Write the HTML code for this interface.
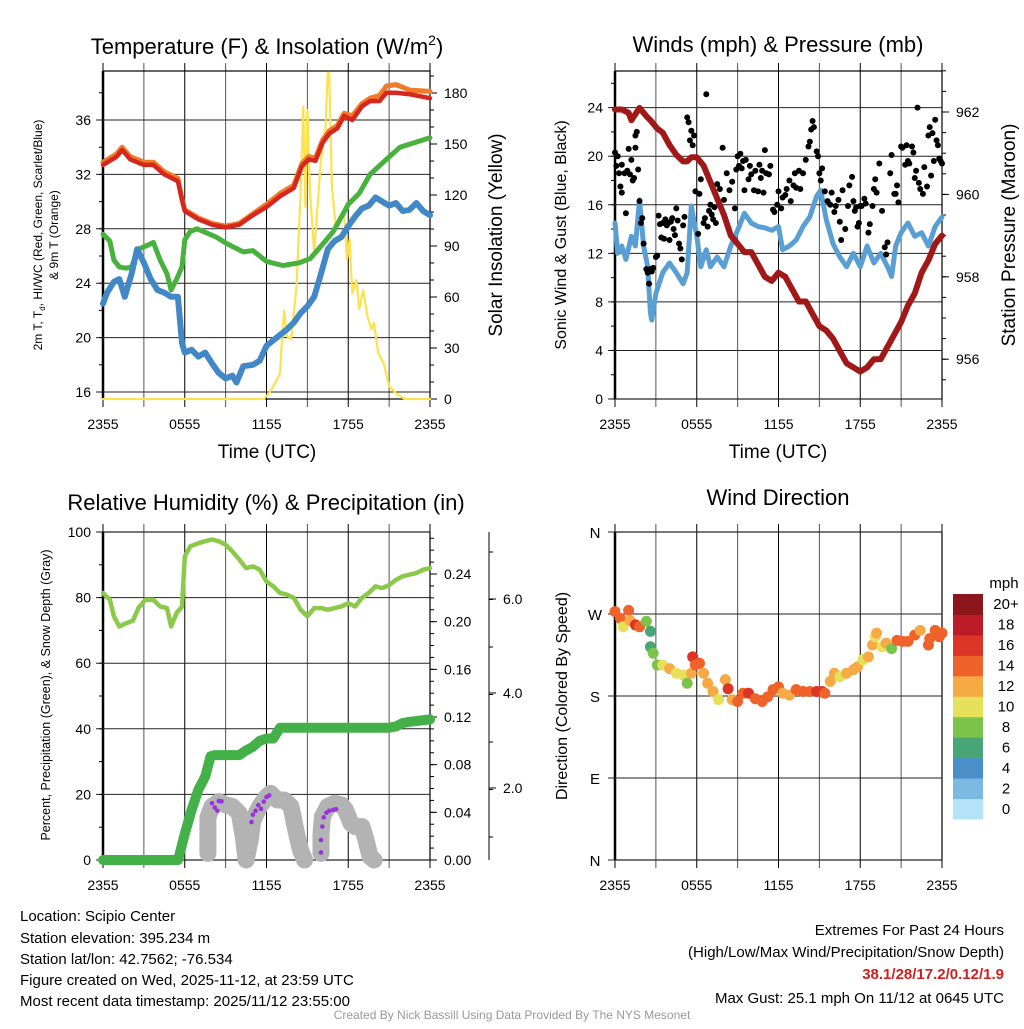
<!DOCTYPE html>
<html><head><meta charset="utf-8"><style>
body{margin:0;background:#fff;width:1024px;height:1024px;overflow:hidden;font-family:"Liberation Sans",sans-serif}
svg text{font-family:"Liberation Sans",sans-serif;fill:#000}
</style></head><body>
<svg id="s" width="1024" height="1024" viewBox="0 0 1024 1024" xmlns="http://www.w3.org/2000/svg">
<rect width="1024" height="1024" fill="#fff"/>
<text x="267" y="54" font-size="22" text-anchor="middle">Temperature (F) &amp; Insolation (W/m<tspan font-size="14" dy="-9">2</tspan><tspan dy="9">)</tspan></text>
<text x="778" y="52" font-size="22" text-anchor="middle">Winds (mph) &amp; Pressure (mb)</text>
<text x="266" y="510" font-size="22" text-anchor="middle">Relative Humidity (%) &amp; Precipitation (in)</text>
<text x="778" y="505" font-size="22" text-anchor="middle">Wind Direction</text>
<text x="267" y="458" font-size="19" text-anchor="middle">Time (UTC)</text>
<text x="778" y="458" font-size="19" text-anchor="middle">Time (UTC)</text>
<text transform="translate(42,235) rotate(-90)" font-size="12" text-anchor="middle">2m T, T<tspan font-size="8" dy="3">d</tspan><tspan dy="-3">, HI/WC (Red, Green, Scarlet/Blue)</tspan></text>
<text transform="translate(58,235) rotate(-90)" font-size="12" text-anchor="middle">&amp; 9m T (Orange)</text>
<text transform="translate(502,235) rotate(-90)" font-size="19" text-anchor="middle">Solar Insolation (Yellow)</text>
<text transform="translate(566,235) rotate(-90)" font-size="16" text-anchor="middle">Sonic Wind &amp; Gust (Blue, Black)</text>
<text transform="translate(1015,235) rotate(-90)" font-size="19" text-anchor="middle">Station Pressure (Maroon)</text>
<text transform="translate(50,695) rotate(-90)" font-size="12.5" text-anchor="middle">Percent, Precipitation (Green), &amp; Snow Depth (Gray)</text>
<text transform="translate(567,696) rotate(-90)" font-size="16" text-anchor="middle">Direction (Colored By Speed)</text>
<g font-size="15">
<text x="20" y="921">Location: Scipio Center</text>
<text x="20" y="943">Station elevation: 395.234 m</text>
<text x="20" y="964">Station lat/lon: 42.7562; -76.534</text>
<text x="20" y="985">Figure created on Wed, 2025-11-12, at 23:59 UTC</text>
<text x="20" y="1006">Most recent data timestamp: 2025/11/12 23:55:00</text>
</g>
<g font-size="15" text-anchor="end">
<text x="1004" y="935">Extremes For Past 24 Hours</text>
<text x="1004" y="957">(High/Low/Max Wind/Precipitation/Snow Depth)</text>
<text x="1004" y="979" fill="#d11f1f" style="fill:#d11f1f" font-weight="bold">38.1/28/17.2/0.12/1.9</text>
<text x="1004" y="1003">Max Gust: 25.1 mph On 11/12 at 0645 UTC</text>
</g>
<text x="512" y="1019" font-size="12" text-anchor="middle" style="fill:#999">Created By Nick Bassill Using Data Provided By The NYS Mesonet</text>
</svg>
<script>
// ---- data ----
const xTickLabels=["2355","0555","1155","1755","2355"];
const redH=[0,0.5,1,1.4,2,3,3.7,4.5,5.5,5.8,6,7,8,9,10,11,12,13,14,14.6,15.1,15.6,16.1,16.6,17.2,17.7,18.3,19,19.6,20.3,20.8,21.5,22.5,24];
const redT=[32.7,33.0,33.3,33.8,33.1,32.7,32.7,32.0,31.5,30.1,29.3,28.7,28.3,28.1,28.3,29.0,29.6,30.4,31.0,32.6,33.1,33.0,34.3,35.0,35.4,36.3,36.0,37.0,37.4,37.4,38.0,38.0,37.9,37.6];
const orgT=[32.9,33.2,33.5,34.0,33.3,32.9,32.9,32.2,31.7,30.2,29.4,28.8,28.4,28.2,28.4,29.1,29.8,30.6,31.2,32.8,33.3,33.2,34.5,35.2,35.6,36.5,36.3,37.2,37.6,37.8,38.5,38.6,38.2,38.1];
const grnH=[0,0.5,0.8,1.2,1.7,2.1,2.6,3.3,3.7,4.2,4.7,5.0,5.4,5.8,6,6.4,6.9,8.3,9.1,10.3,11,12,13.2,14.4,15.2,15.9,16.9,18,18.8,19.6,20.8,21.8,24];
const grnT=[27.6,27.1,25.7,25.2,25.1,25.2,26.5,26.8,27.0,25.7,24.7,23.5,24.3,25.2,27.2,27.8,28.0,27.4,26.9,26.3,26.4,25.6,25.3,25.5,25.8,26.6,27.8,29.8,30.6,32.0,33.1,34.0,34.7];
const bluH=[0,0.3,0.8,1.2,1.6,2.1,2.5,3,3.5,4,4.5,5,5.5,5.8,6,6.5,7,7.5,8,8.5,9,9.5,9.8,10.3,11,11.5,12,12.5,13,13.5,14,14.5,15,15.5,16,16.5,17,17.5,18,18.5,19,19.5,20,20.5,21,21.5,22,22.5,23,23.5,24];
const bluT=[22.5,23.3,24.1,24.3,23.0,24.7,26.5,25.5,24.3,23.5,23.3,23.0,23.0,19.6,18.9,19.1,18.6,18.9,18.1,17.4,17.0,17.2,16.7,17.9,18.0,18.3,19.4,19.8,20.2,20.6,21.1,21.8,22.3,23.0,24.7,26.5,27.1,27.4,28.2,28.9,29.5,29.7,30.3,30.0,29.7,29.9,29.3,29.4,29.9,29.3,29.0];
const solH=[0,11.8,12.2,12.5,13,13.1,13.3,13.5,13.8,14.2,14.5,14.7,14.85,15,15.2,15.5,16,16.3,16.5,16.6,16.8,17.1,17.4,17.7,17.9,18.1,18.3,18.6,18.8,19.1,19.4,19.7,19.9,20.2,20.6,21,21.5,22,22.3,24];
const solW=[0,0,3.5,7.5,15,31,52,37,35,66,121,172,113,170,121,86,141,156,192,192,125,100,107,109,82,94,62,70,53,64,49,41,45,27,21,7.5,3.5,0.6,0,0];
const presH=[0,0.5,1,1.2,1.5,1.8,2.3,2.6,3.1,3.5,4,4.5,5,5.3,5.6,6,6.5,7,7.5,8,8.5,9,9.5,10,10.5,11,11.5,12,12.5,13,13.5,14,14.5,15,15.5,16,16.5,17,17.5,18,18.5,19,19.5,20,20.5,21,21.5,22,22.5,23,23.5,24];
const presMb=[962.06,962.06,961.98,961.8,961.95,962.1,961.9,961.8,961.6,961.5,961.2,960.96,960.8,960.8,960.9,960.9,960.7,960.3,959.9,959.5,959.0,958.8,958.6,958.6,958.3,958.0,957.9,958.1,958.0,957.7,957.4,957.4,957.1,956.8,956.7,956.5,956.2,955.9,955.8,955.7,955.8,956.0,956.0,956.3,956.6,956.9,957.3,957.6,958.1,958.4,958.8,959.0];
const windH=[0,0.2,0.5,0.8,1.2,1.5,1.8,2.1,2.4,2.6,2.7,3,3.5,4,4.5,5,5.3,5.6,6,6.3,6.7,7,7.5,8,8.5,9,9.5,10,10.5,11,11.5,12,12.3,12.8,13.3,13.8,14.3,14.8,15.1,15.5,16,16.5,17,17.5,18,18.5,19,19.5,20,20.3,20.6,21,21.5,22,22.5,23,23.5,24];
const windMph=[14.5,12.0,12.6,11.5,13.4,12.6,16.4,12.6,10.9,7.1,6.5,8.7,10.4,11.2,10.4,9.5,10.4,15.9,13.4,10.9,12.3,10.9,11.7,10.9,12.6,13.9,15.3,14.5,14.2,14.1,13.9,14.2,12.3,12.6,13.1,14.2,15.0,16.7,17.2,14.8,12.8,11.7,10.9,12.0,10.9,12.6,11.2,12.0,10.9,10.1,12.6,13.7,14.5,13.4,13.7,12.6,14.2,15.0];
const gustH=[0,0.1,0.2,0.3,0.4,0.5,0.5,0.7,0.8,0.9,1,1.1,1.2,1.3,1.4,1.5,1.5,1.6,1.7,1.8,1.9,2,2.1,2.3,2.4,2.5,2.6,2.7,2.8,3.0,3.1,3.2,3.3,3.4,3.5,3.6,3.7,3.8,3.9,4.0,4.1,4.2,4.3,4.4,4.5,4.6,4.7,4.8,4.9,5.0,5.1,5.3,5.4,5.5,5.6,5.7,5.8,5.9,6.1,6.2,6.3,6.5,6.6,6.7,6.8,6.9,7.0,7.1,7.2,7.3,7.4,7.5,7.7,7.9,8.0,8.2,8.4,8.6,8.8,8.9,9.0,9.1,9.2,9.3,9.4,9.5,9.6,9.8,9.9,10.0,10.2,10.3,10.5,10.6,10.7,10.8,10.9,11.0,11.1,11.3,11.4,11.6,11.7,11.9,12.0,12.2,12.3,12.5,12.6,12.8,12.9,13.1,13.2,13.3,13.5,13.6,13.8,14.0,14.2,14.3,14.4,14.5,14.6,14.8,14.9,15.0,15.1,15.2,15.4,15.6,15.8,15.9,16.1,16.2,16.4,16.5,16.6,16.7,16.9,17.1,17.2,17.4,17.5,17.6,17.7,17.8,17.9,18.0,18.1,18.3,18.4,18.6,18.7,18.9,19.0,19.1,19.2,19.4,19.6,19.8,19.9,20.0,20.2,20.3,20.5,20.6,20.7,20.8,21.0,21.1,21.3,21.4,21.5,21.6,21.8,21.9,22.0,22.1,22.2,22.3,22.4,22.6,22.7,22.9,23.0,23.1,23.2,23.3,23.4,23.5,23.6,23.7,23.8,23.9,24.0];
const gustMph=[20.3,19.2,20,18.6,17.5,19.3,17,18.6,15.3,18.8,20.6,18.5,19.7,18,18.2,21.7,20.7,22,18.9,16.3,14.5,14.9,12.8,10.7,10.4,9.5,10.7,10.5,10.8,11.7,11.8,15.1,14.4,13.3,14.5,13.2,14.8,14.3,14.5,13.1,14.6,14.9,14.0,13.5,15.7,14.7,12.8,12.4,11.5,14.3,15.0,23.2,22.8,21.3,22.1,20.9,21.7,17.1,13.6,16.9,18.1,14.5,14.9,25.1,14.2,15.5,16.0,15.2,14.8,15.8,14.5,17.7,17.3,20.7,16.4,18.6,17.2,17.9,15.7,18.9,20.0,19.2,20.2,19.0,19.6,17.2,19.7,18.1,19.2,18.5,17.2,18.8,17.1,19.3,18.2,18.8,17.0,20.5,18.6,18.5,19.2,15.6,15.4,16.0,17.1,15.7,16.6,16.8,17.3,18.0,16.3,17.6,18.6,17.4,18.8,17.3,18.6,19.7,20.8,21.2,22.2,22.9,22.4,20.4,20.0,18.6,18.0,19.0,17.1,16.3,16.0,17.0,15.4,15.9,16.4,14.6,13.1,17.2,14.0,15.9,17.6,18.3,16.3,15.5,15.8,14.2,14.5,15.9,15.9,16.5,16.1,13.7,14.4,15.9,17.3,18.1,17.0,19.4,15.5,12.5,11.9,12.9,18.6,20.1,16.9,16.9,17.6,16.2,20.8,20.7,19.3,20.9,19.6,19.4,20.8,20.3,18.2,18.8,24.0,17.8,17.3,16.9,19.1,17.5,21.7,22.4,18.4,21.9,19.6,23.0,21.3,20.9,19.8,19.6,19.4];
const rhH=[0,0.5,0.8,1.2,1.6,2.2,2.6,3.1,3.7,4.2,4.7,5.0,5.4,5.8,6,6.4,7,7.5,8,8.5,9,9.5,10,10.5,11,11.5,12,12.5,13,13.5,14,14.5,15,15.5,16,16.5,17,17.5,18,18.5,19,19.5,20,20.5,21,21.5,22,22.5,23,23.5,24];
const rhPct=[81.4,79.4,74.3,71.2,72.0,73.0,76.8,79.3,79.3,77.3,76.8,71.2,75.3,77.3,92.6,95.6,96.6,97.2,97.7,97.2,96.1,94.1,91.6,89.0,89.5,88.5,84.9,83.4,81.4,80.9,79.9,76.3,74.3,76.8,76.8,76.3,76.8,77.3,78.3,77.3,79.9,81.4,83.4,82.9,83.8,85.4,86.5,87.0,87.5,88.5,89.0];
const prH=[0,5.5,5.6,6,6.5,7,7.5,7.9,8.2,10,10.5,11,11.5,12,12.5,13,21,21.5,22,22.5,24];
const prIn=[0,0,0.004,0.022,0.042,0.059,0.07,0.087,0.088,0.088,0.092,0.095,0.10,0.102,0.102,0.111,0.111,0.112,0.115,0.116,0.118];
const snowH=[7.7,7.7,7.7,8,8.5,9,9.5,10,10.3,10.5,10.8,11,11.5,12,12.3,12.8,13.3,13.8,14.2,14.5,14.8,null,16.0,16.0,16.1,16.5,17,17.5,17.8,18.2,18.5,19,19.3,19.6,19.9];
const snowPct=[2,8,13,16.3,17.8,16.8,16.3,14.2,7.1,0,6.1,12.2,16.3,19.3,20.3,18.3,18.3,16.3,8.1,3,0,null,2,8,13.2,16.3,17.3,16.8,15.3,11.2,10.2,10.2,6.1,1,0];
const purH=[8.0,8.2,8.4,8.5,8.7,10.9,11.0,11.2,11.4,11.6,11.8,12.0,12.2,16.0,16.0,16.1,16.2,16.4,16.6,16.9,17.1];
const purV=[17.3,16.0,15,18,17.9,11.6,13.8,15.0,16.7,15.6,17.8,19.2,19.7,2.3,6.1,10.2,13.0,14.4,15,15.3,15.5];
const dirH=[0,0.4,0.6,1.0,1.1,1.5,1.8,2.3,2.6,2.6,2.8,3.1,3.5,4.0,4.5,5.0,5.3,5.6,5.7,5.9,6.2,6.5,6.8,7.2,7.6,8.1,8.3,8.6,9.0,9.4,9.8,10.3,10.8,11.2,11.6,12.0,12.3,12.8,13.3,13.8,14.3,14.8,15.2,15.4,15.8,16.1,16.5,17.0,17.5,17.8,18.2,18.6,18.9,19.1,19.2,19.6,19.9,20.3,20.7,21.1,21.5,22.0,22.4,23.0,23.1,23.5,23.8,24];
const dirDeg=[272.6,265,256,274,263,258,256,262,251,234,227,214,214,210,205,203,194,205,223,214,216,205,194,185,176,198,188,176,174,183,183,177,174,179,187,190,183,181,187,185,185,185,185,183,196,205,201,205,209,212,220,223,236,245,249,234,238,232,241,240,240,247,252,236,243,252,245,249];
const dirSpd=[15,14,10,14,12,17,15,9,6,6,8,8,10,12,10,10,8,12,17,15,14,12,13,12,10,12,16,12,15,14,17,14,14,14,14,15,12,12,14,14,14,16,17,14,12,12,10,12,12,12,10,12,12,10,12,10,12,8,14,14,15,15,12,15,14,15,15,14];
const cbLabels=["0","2","4","6","8","10","12","14","16","18","20+"];
const cbColors=["#b4e2f6","#7cb9e2","#4a8fc7","#48a676","#7cc34c","#e7e05a","#f6aa46","#ef6229","#dc3427","#bc1c25","#8c1619"];
const tempTicks=[16,20,24,28,32,36];
const solTicks=[0,30,60,90,120,150,180];
const windTicks=[0,4,8,12,16,20,24];
const presTicks=[956,958,960,962];
const rhTicks=[0,20,40,60,80,100];
const prTicks=[0,0.04,0.08,0.12,0.16,0.20,0.24];
const dirLabels=["N","E","S","W","N"];
// ---- drawing ----
const NS="http://www.w3.org/2000/svg";
const svg=document.getElementById('s');
function el(t,a,p){const e=document.createElementNS(NS,t);for(const k in a)e.setAttribute(k,a[k]);(p||svg).appendChild(e);return e;}
function txt(x,y,s,size,anchor){const t=el('text',{x:x,y:y,'font-size':size,'text-anchor':anchor});t.textContent=s;return t;}
function lin(a,b,c,d){return el('line',{x1:a,y1:b,x2:c,y2:d,stroke:'#000','stroke-width':1});}
function panel(x0,x1,yT,yB,name){
  const g=el('g',{});
  
  
  const xs=h=>x0+(x1-x0)*h/24;
  for(let i=0;i<=8;i++){const x=xs(i*3);const l=lin(x,yT-8,x,yB+8);l.setAttribute('stroke',i%2?'#555':'#000');g.appendChild(l);}
  for(let i=0;i<5;i++){const t=txt(xs(i*6),yB+30,xTickLabels[i],14,'middle');}
  const b=el('rect',{x:x0,y:yT,width:x1-x0,height:yB-yT,fill:'none',stroke:'#000','stroke-width':1.2});
  
  
  lin(x0,yT,x0,yB).setAttribute('stroke-width',2.5);
  return xs;
}
function leftAxis(x0,x1,yT,yB,ticks,fy,lab,minorStep,lo,hi,name){
  ticks.forEach(v=>{const y=fy(v);lin(x0-7,y,x1,y).setAttribute('stroke','#222');const t=txt(x0-12,y+5,lab(v),14,'end');});
  if(minorStep)for(let v=lo;v<=hi+1e-9;v+=minorStep){const y=fy(v);if(y>=yT&&y<=yB)lin(x0-4,y,x0,y);}
}
function rightAxis(ax,yT,yB,ticks,fy,lab,minorStep,lo,hi,name){
  lin(ax,yT-8,ax,yB);
  ticks.forEach(v=>{const y=fy(v);lin(ax,y,ax+7,y);const t=txt(ax+14,y+5,lab(v),14,'start');});
  if(minorStep)for(let v=lo;v<=hi+1e-9;v+=minorStep){const y=fy(v);if(y>=yT-8&&y<=yB)lin(ax,y,ax+4,y);}
}
function path(H,V,fx,fy,color,w,name,cap){
  let d='',pen=false;
  for(let i=0;i<H.length;i++){if(H[i]===null){pen=false;continue;}d+=(pen?'L':'M')+fx(H[i]).toFixed(1)+' '+fy(V[i]).toFixed(1);pen=true;}
  const p=el('path',{d:d,fill:'none',stroke:color,'stroke-width':w,'stroke-linejoin':'round','stroke-linecap':cap||'round'});
  
  
  return p;
}
// Panel 1
{const x0=103,x1=430,yT=71,yB=399;
 const fy=v=>392-(v-16)*13.6, fs=v=>399-v*1.7;
 const xs=panel(x0,x1,yT,yB,'temp');
 leftAxis(x0,x1,yT,yB,tempTicks,fy,v=>v,2,16,38,'temp-y');
 rightAxis(x1,yT,yB,solTicks,fs,v=>v,10,0,190,'solar-y');
 path(solH,solW,xs,fs,'#fde24f',2.2,'solar-insolation-line');
 path(grnH,grnT,xs,fy,'#49b23f',5,'green-temp-line');
 path(bluH,bluT,xs,fy,'#4287c6',6,'blue-dewpoint-line');
 path(redH,orgT,xs,fy,'#f07b28',5,'orange-9m-temp-line');
 path(redH,redT,xs,fy,'#d7261e',4.5,'red-2m-temp-line');}
// Panel 2
{const x0=615,x1=942,yT=71,yB=399;
 const fy=v=>399-v*12.14, fp=v=>112-(v-962)*41.2;
 const xs=panel(x0,x1,yT,yB,'wind');
 leftAxis(x0,x1,yT,yB,windTicks,fy,v=>v,2,0,26,'wind-y');
 rightAxis(x1,yT,yB,presTicks,fp,v=>v,0.5,955,963,'pressure-y');
 path(windH,windMph,xs,fy,'#5a9fd4',5,'sonic-wind-line');
 gustH.forEach((h,i)=>{const c=el('circle',{cx:xs(h),cy:fy(gustMph[i]),r:3,fill:'#000'});
  
  });
 path(presH,presMb,xs,fp,'#a01818',6,'pressure-line');}
// Panel 3
{const x0=103,x1=430,yT=532,yB=860;
 const fy=v=>860-v*3.28, fpr=v=>860-v*(286/0.24);
 const xs=panel(x0,x1,yT,yB,'rh');
 leftAxis(x0,x1,yT,yB,rhTicks,fy,v=>v,10,0,100,'rh-y');
 rightAxis(x1,yT,yB,prTicks,fpr,v=>v.toFixed(2),0.01,0,0.27,'precip-y');
 const ax=489; lin(ax,532,ax,860);
 [[6.0,599],[4.0,693],[2.0,788]].forEach(a=>{lin(ax,a[1],ax+7,a[1]);const t=txt(ax+14,a[1]+5,a[0].toFixed(1),14,'start');});
 for(let y=552;y<860;y+=47.5)lin(ax,y,ax+4,y);
 path(snowH,snowPct,xs,fy,'#b3b3b3',17,'snow-depth-line');
 purH.forEach((h,i)=>{const c=el('circle',{cx:xs(h),cy:fy(purV[i]),r:2.3,fill:'#9b30e0'});
  
  });
 path(prH,prIn,xs,fpr,'#43b148',10,'precipitation-line');
 path(rhH,rhPct,xs,fy,'#8bc94a',4.5,'relative-humidity-line');}
// Panel 4
{const x0=615,x1=942,yT=532,yB=860;
 const fy=d=>860-d*(328/360);
 const xs=panel(x0,x1,yT,yB,'direction');
 dirLabels.forEach((s,i)=>{const y=fy(i*90);lin(x0-7,y,x1,y).setAttribute('stroke','#222');const t=txt(x0-20,y+6,s,15,'middle');});
 dirH.forEach((h,i)=>{const k=Math.min(10,Math.floor(dirSpd[i]/2));const c=el('circle',{cx:xs(h),cy:fy(dirDeg[i]),r:5.5,fill:cbColors[k]});
  
  });
 const bh=(819-594)/11;
 cbColors.forEach((c,i)=>{const r=el('rect',{x:953,y:819-(i+1)*bh,width:30,height:bh+0.5,fill:c});
  
  
  const t=txt(1006,819-(i+0.5)*bh+5,cbLabels[i],15,'middle');
  
  });
 const u=txt(1004,588,'mph',15,'middle');
 
 }
</script>
</body></html>
